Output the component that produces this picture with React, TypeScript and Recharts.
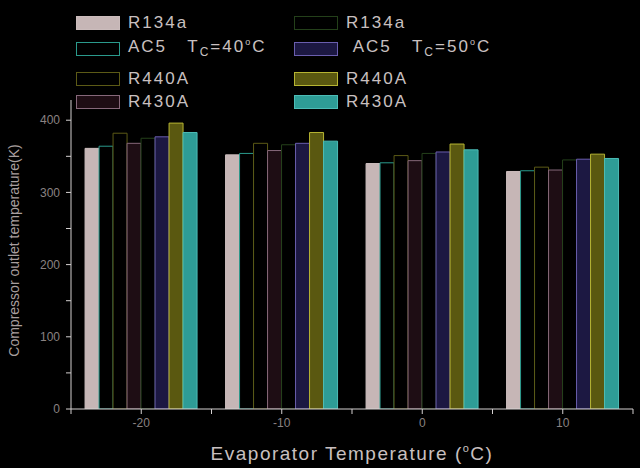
import { BarChart, Bar, XAxis, YAxis, Label } from 'recharts';

// evaporator temperatures (°C)
const temps = [-20, -10, 0, 10];

// compressor outlet temperature (K), Tc = 40°C
const r134a40 = [361, 352, 340, 329];
const ac5_40 = [364, 354, 341, 330];
const r440a40 = [382, 368, 351, 335];
const r430a40 = [368, 358, 344, 331];

// Tc = 50°C
const r134a50 = [375, 366, 354, 345];
const ac5_50 = [377, 368, 356, 346];
const r440a50 = [396, 383, 367, 353];
const r430a50 = [383, 371, 359, 347];

const yTicks = [0, 50, 100, 150, 200, 250, 300, 350, 400];
const xTicks = [-25, -20, -15, -10, -5, 0, 5, 10, 15];

const series = [
	{ key: 'r134a40', name: 'R134a', values: r134a40, fill: '#c6b6b6', stroke: '#cbbcbc' },
	{ key: 'ac5_40', name: 'AC5', values: ac5_40, fill: '#000000', stroke: '#2a9a8c' },
	{ key: 'r440a40', name: 'R440A', values: r440a40, fill: '#000000', stroke: '#5c5a16' },
	{ key: 'r430a40', name: 'R430A', values: r430a40, fill: '#1e0d14', stroke: '#86687a' },
	{ key: 'r134a50', name: 'R134a', values: r134a50, fill: '#000000', stroke: '#24401a' },
	{ key: 'ac5_50', name: 'AC5', values: ac5_50, fill: '#1c1842', stroke: '#6a5eae' },
	{ key: 'r440a50', name: 'R440A', values: r440a50, fill: '#5a5810', stroke: '#b6b432' },
	{ key: 'r430a50', name: 'R430A', values: r430a50, fill: '#2e9c96', stroke: '#4cbcb6' },
];

const data = temps.map((t, i) => {
	const row: Record<string, number> = { temp: t };
	series.forEach((s) => {
		row[s.key] = s.values[i];
	});
	return row;
});

const textColor = '#c9c0c0';
const font = '"Liberation Sans", Arial, sans-serif';

const LegendLabel = ({ s, col }: { s: (typeof series)[number]; col: number }) => {
	if (s.name !== 'AC5') return <span>{s.name}</span>;
	return (
		<span>
			{col === 1 ? '\u00a0' : ''}AC5&nbsp;&nbsp;&nbsp;T
			<sub style={{ fontSize: 12 }}>C</sub>={col === 0 ? '40' : '50'}
			<sup style={{ fontSize: 9 }}>o</sup>C
		</span>
	);
};

const rowTops = [15, 41, 71, 94];

const ChartLegend = () => (
	<div style={{ position: 'absolute', left: 0, top: 0, width: 640, height: 110 }}>
		{series.map((s, i) => {
			const col = i < 4 ? 0 : 1;
			const row = i % 4;
			const left = col === 0 ? 76 : 294;
			return (
				<div
					key={s.key}
					style={{
						position: 'absolute',
						left,
						top: rowTops[row],
						display: 'flex',
						alignItems: 'center',
						height: 15,
						color: textColor,
						fontFamily: font,
						fontSize: 17,
						letterSpacing: 2,
						whiteSpace: 'nowrap',
					}}
				>
					<div
						style={{
							width: 42,
							height: 12,
							background: s.fill,
							border: `1px solid ${s.stroke}`,
							marginRight: 8,
						}}
					/>
					<LegendLabel s={s} col={col} />
				</div>
			);
		})}
	</div>
);

const XTitle = ({ viewBox }: any) => {
	const cx = viewBox.x + viewBox.width / 2;
	return (
		<text
			x={cx}
			y={460}
			fill={textColor}
			fontSize={19}
			fontFamily={font}
			letterSpacing={1.5}
			textAnchor="middle"
		>
			Evaporator Temperature (
			<tspan fontSize={11} dy={-8}>
				o
			</tspan>
			<tspan dy={8}>C)</tspan>
		</text>
	);
};

const YTitle = ({ viewBox }: any) => {
	const cy = viewBox.y + viewBox.height / 2 - 4;
	return (
		<text
			x={0}
			y={0}
			transform={`translate(19, ${cy}) rotate(-90)`}
			fill="#a89e9e"
			fontSize={14}
			fontFamily={font}
			textAnchor="middle"
		>
			Compressor outlet temperature(K)
		</text>
	);
};

export default function App() {
	return (
		<div
			style={{
				position: 'absolute',
				left: 0,
				top: 0,
				width: 640,
				height: 468,
				background: '#000000',
				overflow: 'hidden',
			}}
		>
			<BarChart
				width={640}
				height={468}
				data={data}
				margin={{ top: 100, right: 7, bottom: 29, left: 11 }}
				barGap={0}
				barCategoryGap="10%"
			>
				<XAxis
					xAxisId="num"
					dataKey="temp"
					type="number"
					domain={[-25, 15]}
					allowDataOverflow
					ticks={xTicks}
					tickFormatter={(v: number) => (v % 10 === 0 ? String(v) : '')}
					stroke="#d4d0d0"
					tickSize={5}
					tickMargin={4}
					tick={{ fill: '#8a8282', fontSize: 12, fontFamily: font }}
					height={30}
				>
					<Label content={<XTitle />} />
				</XAxis>
				<XAxis xAxisId="cat" dataKey="temp" type="category" hide height={0} />
				<YAxis
					domain={[0, 428]}
					ticks={yTicks}
					allowDataOverflow
					tickFormatter={(v: number) => (v % 100 === 0 ? String(v) : '')}
					stroke="#d4d0d0"
					tickSize={5}
					tickMargin={6}
					tick={{ fill: '#8a8282', fontSize: 12, fontFamily: font }}
					width={60}
				>
					<Label content={<YTitle />} />
				</YAxis>
				{series.map((s) => (
					<Bar
						key={s.key}
						xAxisId="cat"
						dataKey={s.key}
						fill={s.fill}
						stroke={s.stroke}
						strokeWidth={1}
						isAnimationActive={false}
					/>
				))}
			</BarChart>
			<ChartLegend />
		</div>
	);
}
